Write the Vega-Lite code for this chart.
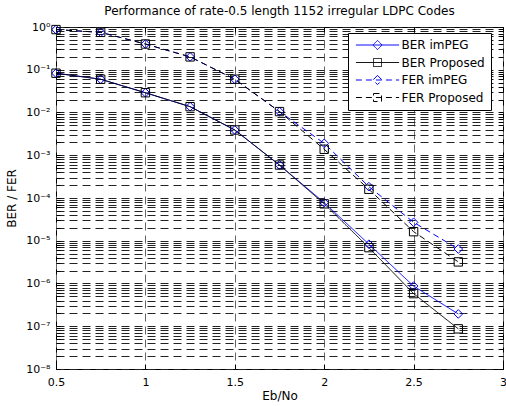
{
  "$schema": "https://vega.github.io/schema/vega-lite/v6.json",
  "autosize": {"type": "none"},
  "width": 447,
  "height": 342,
  "padding": {"left": 56, "top": 27, "right": 3, "bottom": 37},
  "background": "white",
  "config": {
    "font": "DejaVu Sans",
    "view": {"stroke": "black", "strokeWidth": 1},
    "axis": {"labelFont": "DejaVu Sans", "titleFont": "DejaVu Sans", "labelColor": "black", "titleColor": "black", "titleFontWeight": "normal", "labelFontSize": 11, "titleFontSize": 12, "domainColor": "black", "tickColor": "black"}
  },
  "title": {"text": "Performance of rate-0.5 length 1152 irregular LDPC Codes", "fontSize": 12, "fontWeight": "normal", "font": "DejaVu Sans", "color": "black", "offset": 3, "anchor": "middle"},
  "data": {"values": [
    {"series": "BER imPEG", "ebno": 0.5, "v": 0.083},
    {"series": "BER imPEG", "ebno": 0.75, "v": 0.060},
    {"series": "BER imPEG", "ebno": 1.0, "v": 0.029},
    {"series": "BER imPEG", "ebno": 1.25, "v": 0.0137},
    {"series": "BER imPEG", "ebno": 1.5, "v": 0.0039},
    {"series": "BER imPEG", "ebno": 1.75, "v": 0.00059},
    {"series": "BER imPEG", "ebno": 2.0, "v": 0.000078},
    {"series": "BER imPEG", "ebno": 2.25, "v": 0.0000083},
    {"series": "BER imPEG", "ebno": 2.5, "v": 0.00000087},
    {"series": "BER imPEG", "ebno": 2.75, "v": 0.000000194},
    {"series": "BER Proposed", "ebno": 0.5, "v": 0.083},
    {"series": "BER Proposed", "ebno": 0.75, "v": 0.060},
    {"series": "BER Proposed", "ebno": 1.0, "v": 0.029},
    {"series": "BER Proposed", "ebno": 1.25, "v": 0.0137},
    {"series": "BER Proposed", "ebno": 1.5, "v": 0.0039},
    {"series": "BER Proposed", "ebno": 1.75, "v": 0.00059},
    {"series": "BER Proposed", "ebno": 2.0, "v": 0.000073},
    {"series": "BER Proposed", "ebno": 2.25, "v": 0.0000069},
    {"series": "BER Proposed", "ebno": 2.5, "v": 0.00000058},
    {"series": "BER Proposed", "ebno": 2.75, "v": 0.000000087},
    {"series": "FER imPEG", "ebno": 0.5, "v": 0.87},
    {"series": "FER imPEG", "ebno": 0.75, "v": 0.75},
    {"series": "FER imPEG", "ebno": 1.0, "v": 0.40},
    {"series": "FER imPEG", "ebno": 1.25, "v": 0.20},
    {"series": "FER imPEG", "ebno": 1.5, "v": 0.060},
    {"series": "FER imPEG", "ebno": 1.75, "v": 0.0105},
    {"series": "FER imPEG", "ebno": 2.0, "v": 0.0019},
    {"series": "FER imPEG", "ebno": 2.25, "v": 0.000184},
    {"series": "FER imPEG", "ebno": 2.5, "v": 0.000027},
    {"series": "FER imPEG", "ebno": 2.75, "v": 0.0000064},
    {"series": "FER Proposed", "ebno": 0.5, "v": 0.87},
    {"series": "FER Proposed", "ebno": 0.75, "v": 0.75},
    {"series": "FER Proposed", "ebno": 1.0, "v": 0.40},
    {"series": "FER Proposed", "ebno": 1.25, "v": 0.20},
    {"series": "FER Proposed", "ebno": 1.5, "v": 0.060},
    {"series": "FER Proposed", "ebno": 1.75, "v": 0.0105},
    {"series": "FER Proposed", "ebno": 2.0, "v": 0.00138},
    {"series": "FER Proposed", "ebno": 2.25, "v": 0.00016},
    {"series": "FER Proposed", "ebno": 2.5, "v": 0.0000163},
    {"series": "FER Proposed", "ebno": 2.75, "v": 0.0000032}
  ]},
  "layer": [
    {
      "mark": {"type": "line", "strokeWidth": 1, "clip": true},
      "encoding": {
        "x": {"field": "ebno", "type": "quantitative", "title": "Eb/No",
          "scale": {"domain": [0.5, 3], "nice": false, "zero": false},
          "axis": {"orient": "bottom", "values": [0.5, 1, 1.5, 2, 2.5, 3], "format": "~g", "grid": true, "gridColor": "#666", "gridDash": [8, 5], "gridWidth": 1, "tickSize": -5, "labelPadding": 12, "labelFlush": false, "titlePadding": 3, "domain": false}},
        "y": {"field": "v", "type": "quantitative", "title": "BER / FER",
          "scale": {"type": "log", "domain": [1e-8, 1], "nice": false},
          "axis": {"orient": "left",
            "values": [1e-8,2e-8,3e-8,4e-8,5e-8,6e-8,7e-8,8e-8,9e-8,1e-7,2e-7,3e-7,4e-7,5e-7,6e-7,7e-7,8e-7,9e-7,1e-6,2e-6,3e-6,4e-6,5e-6,6e-6,7e-6,8e-6,9e-6,1e-5,2e-5,3e-5,4e-5,5e-5,6e-5,7e-5,8e-5,9e-5,1e-4,2e-4,3e-4,4e-4,5e-4,6e-4,7e-4,8e-4,9e-4,1e-3,2e-3,3e-3,4e-3,5e-3,6e-3,7e-3,8e-3,9e-3,1e-2,2e-2,3e-2,4e-2,5e-2,6e-2,7e-2,8e-2,9e-2,1e-1,2e-1,3e-1,4e-1,5e-1,6e-1,7e-1,8e-1,9e-1,1],
            "labelExpr": "abs(log(datum.value)/LN10 - round(log(datum.value)/LN10)) < 1e-6 ? ['10⁰','10⁻¹','10⁻²','10⁻³','10⁻⁴','10⁻⁵','10⁻⁶','10⁻⁷','10⁻⁸'][abs(round(log(datum.value)/LN10))] : ''",
            "labelOverlap": false, "labelBound": false, "labelFlush": false,
            "grid": true, "gridColor": "#222", "gridDash": [8, 5], "gridWidth": 1,
            "tickSize": -4, "labelPadding": 10, "titlePadding": 7, "domain": false}},
        "color": {"field": "series", "type": "nominal",
          "scale": {"domain": ["BER imPEG", "BER Proposed", "FER imPEG", "FER Proposed"], "range": ["#0000ff", "#000000", "#0000ff", "#000000"]},
          "legend": {"orient": "none", "legendX": 292, "legendY": 6, "title": null,
            "strokeColor": "black", "fillColor": "white", "padding": 6, "cornerRadius": 0,
            "labelFontSize": 12, "labelColor": "black", "labelFont": "DejaVu Sans",
            "symbolSize": 64, "symbolStrokeWidth": 1, "symbolOffset": 17.5, "labelOffset": 18, "rowPadding": 4.5,
            "encode": {"symbols": {"update": {
              "shape": {"signal": "indexof(datum.value, 'imPEG') > 0 ? 'M-5.4,0H5.4M0,-1.15L1.15,0L0,1.15L-1.15,0Z' : 'M-5.4,0H5.4M-1,-1H1V1H-1Z'"},
              "strokeDash": {"signal": "indexof(datum.value, 'FER') == 0 ? [6, 4] : [1, 0]"},
              "fill": {"value": "transparent"}
            }}}}},
        "strokeDash": {"field": "series", "type": "nominal",
          "scale": {"domain": ["BER imPEG", "BER Proposed", "FER imPEG", "FER Proposed"], "range": [[1, 0], [1, 0], [6, 4], [6, 4]]},
          "legend": null}
      }
    },
    {
      "transform": [{"filter": "indexof(datum.series, 'imPEG') > 0"}],
      "mark": {"type": "point", "shape": "diamond", "filled": false, "strokeWidth": 1, "size": 75, "opacity": 1},
      "encoding": {
        "x": {"field": "ebno", "type": "quantitative",
          "axis": {"orient": "top", "values": [0.5, 1, 1.5, 2, 2.5, 3], "labels": false, "grid": false, "tickSize": -5, "title": null, "domain": false}},
        "y": {"field": "v", "type": "quantitative",
          "axis": {"orient": "right",
            "values": [1e-8,2e-8,3e-8,4e-8,5e-8,6e-8,7e-8,8e-8,9e-8,1e-7,2e-7,3e-7,4e-7,5e-7,6e-7,7e-7,8e-7,9e-7,1e-6,2e-6,3e-6,4e-6,5e-6,6e-6,7e-6,8e-6,9e-6,1e-5,2e-5,3e-5,4e-5,5e-5,6e-5,7e-5,8e-5,9e-5,1e-4,2e-4,3e-4,4e-4,5e-4,6e-4,7e-4,8e-4,9e-4,1e-3,2e-3,3e-3,4e-3,5e-3,6e-3,7e-3,8e-3,9e-3,1e-2,2e-2,3e-2,4e-2,5e-2,6e-2,7e-2,8e-2,9e-2,1e-1,2e-1,3e-1,4e-1,5e-1,6e-1,7e-1,8e-1,9e-1,1],
            "labels": false, "grid": false, "tickSize": -4, "title": null, "domain": false}},
        "color": {"field": "series", "type": "nominal"}
      }
    },
    {
      "transform": [{"filter": "indexof(datum.series, 'Proposed') > 0"}],
      "mark": {"type": "point", "shape": "square", "filled": false, "strokeWidth": 1, "size": 70, "opacity": 1},
      "encoding": {
        "x": {"field": "ebno", "type": "quantitative", "axis": null},
        "y": {"field": "v", "type": "quantitative", "axis": null},
        "color": {"field": "series", "type": "nominal"}
      }
    }
  ],
  "resolve": {"axis": {"x": "independent", "y": "independent"}}
}
